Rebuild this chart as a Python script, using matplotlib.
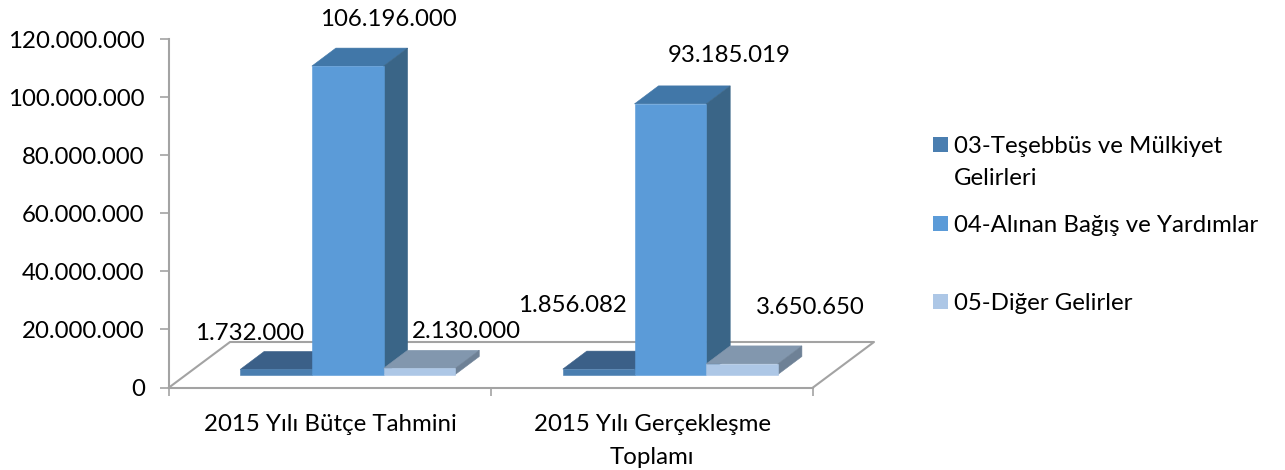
import matplotlib
matplotlib.use("Agg")
import matplotlib.pyplot as plt
from matplotlib.patches import Polygon, Rectangle
from matplotlib.ticker import FuncFormatter

plt.rcParams["font.family"] = ["Lato", "DejaVu Sans"]

# Data
categories = ["2015 Yılı Bütçe Tahmini", "2015 Yılı Gerçekleşme\nToplamı"]
series_names = ["03-Teşebbüs ve Mülkiyet\nGelirleri", "04-Alınan Bağış ve Yardımlar", "05-Diğer Gelirler"]
teşebbüs = [1732000, 1856082]
bagis = [106196000, 93185019]
diger = [2130000, 3650650]
y_ticks = [0, 20000000, 40000000, 60000000, 80000000, 100000000, 120000000]

W, H = 1285, 470
FS = 17.3
GRAY = "#a3a3a3"


def dotted(v):
    return f"{int(v):,}".replace(",", ".")


def fx(px):
    return px / W


def fy(py):
    return 1 - py / H


# colours: front, top, side
colors = [
    ("#4a7eb0", "#3b6088", "#3a6186"),
    ("#5b9bd8", "#4177a8", "#3a6587"),
    ("#adc7e6", "#8297ae", "#6e8196"),
]

fig = plt.figure(figsize=(W / 100, H / 100), dpi=100)
ax = fig.add_axes([fx(169), fy(387.5), fx(813) - fx(169), fy(39) - fy(387.5)])
ax.set_xlim(0, 2)
ax.set_ylim(0, 120000000)

# 3d look, all in data units
px_x = 2 / (813 - 169)
px_y = 120000000 / (387.5 - 39)
bar_w = 71.7 * px_x
bar_dx = 24 * px_x
bar_dy = 18 * px_y
lift = 13 * px_y
floor_dx = 61 * px_x
floor_dy = 45.5 * px_y
centers = [0.555, 1.557]

# floor outline
ax.plot([0, floor_dx, 2 + floor_dx, 2], [0, floor_dy, floor_dy, 0],
        color=GRAY, lw=1.5, clip_on=False, zorder=1)


def draw_bar(x0, value, cols):
    x1 = x0 + bar_w
    top = lift + value
    front, top_c, side = cols
    ax.add_patch(Polygon([(x0, top), (x1, top), (x1 + bar_dx, top + bar_dy), (x0 + bar_dx, top + bar_dy)],
                         fc=top_c, ec=top_c, lw=0.4, clip_on=False, zorder=3))
    ax.add_patch(Polygon([(x1, lift), (x1 + bar_dx, lift + bar_dy), (x1 + bar_dx, top + bar_dy), (x1, top)],
                         fc=side, ec=side, lw=0.4, clip_on=False, zorder=3))
    ax.add_patch(Rectangle((x0, lift), bar_w, value, fc=front, ec=front, lw=0.4, clip_on=False, zorder=3))


for i, c in enumerate(centers):
    vals = [teşebbüs[i], bagis[i], diger[i]]
    for j, v in enumerate(vals):
        draw_bar(c + (j - 1.5) * bar_w, v, colors[j])

# axes styling
for s in ["top", "right"]:
    ax.spines[s].set_visible(False)
for s in ["left", "bottom"]:
    ax.spines[s].set_color(GRAY)
    ax.spines[s].set_linewidth(1.5)
ax.patch.set_alpha(0)
ax.set_yticks(y_ticks)
ax.yaxis.set_major_formatter(FuncFormatter(lambda v, pos: dotted(v)))
ax.tick_params(axis="y", labelsize=FS, color=GRAY, width=1.2, length=6.5, pad=11, labelcolor="black")
ax.set_xticks([0, 1, 2])
ax.set_xticklabels([])
ax.tick_params(axis="x", which="major", color=GRAY, width=1.2, length=5.5)
ax.set_xticks([0.5, 1.5], minor=True)
ax.set_xticklabels(categories, minor=True, fontsize=FS, linespacing=1.7, color="black")
ax.tick_params(axis="x", which="minor", length=0, pad=19)

# data labels, placed by hand like in the original
label_vals = [teşebbüs[0], bagis[0], diger[0], teşebbüs[1], bagis[1], diger[1]]
label_pos = [(250, 333), (388, 20), (466, 331), (572, 305), (729, 55), (810, 307)]
for v, (px, py) in zip(label_vals, label_pos):
    fig.text(fx(px), fy(py), dotted(v), ha="center", va="center", fontsize=FS, color="black")

# legend
leg_box_y = [137, 216, 294]
leg_text_y = [162.5, 225, 303]
for name, col, by, ty in zip(series_names, colors, leg_box_y, leg_text_y):
    fig.add_artist(Rectangle((fx(933), fy(by + 15)), 15 / W, 15 / H, fc=col[0], ec="none",
                             transform=fig.transFigure))
    fig.text(fx(954), fy(ty), name, ha="left", va="center", fontsize=FS, color="black", linespacing=1.7)

fig.savefig("out.png", dpi=100)
